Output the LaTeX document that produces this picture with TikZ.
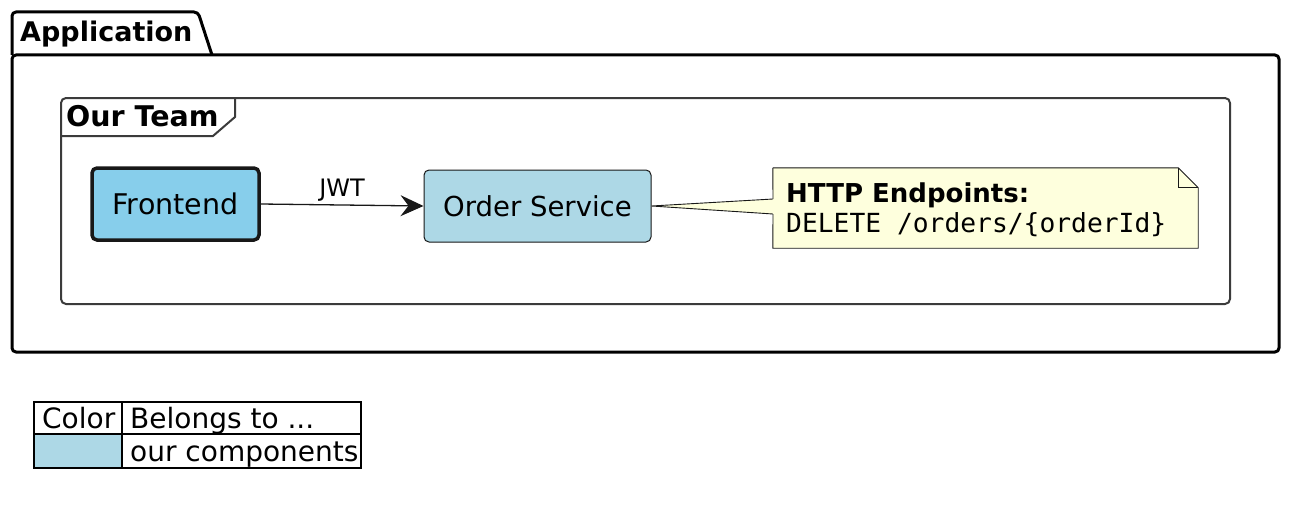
\documentclass[tikz,border=0pt]{standalone}
\usepackage{fontspec}
\setmainfont{DejaVu Sans}
\setmonofont{DejaVu Sans Mono}
\usetikzlibrary{arrows.meta}
\definecolor{lineclr}{HTML}{181818}
\definecolor{fefill}{HTML}{87CEEB}
\definecolor{osfill}{HTML}{ADD8E6}
\definecolor{notefill}{HTML}{FEFFDD}
\newcommand{\fsz}[1]{\fontsize{#1}{#1}\selectfont}
\tikzset{
  pkgline/.style={draw=black, line width=3pt, line join=round},
  frameline/.style={draw=lineclr!85!white, line width=2pt},
  compbox/.style={rounded corners=5pt, draw=lineclr, minimum height=72pt, inner sep=0pt, font=\fsz{28.5}},
  notebox/.style={draw=none, minimum width=425pt, minimum height=80pt, inner sep=0pt},
  titletext/.style={anchor=base west, inner sep=0pt, font=\bfseries\fsz{27}},
  legtext/.style={anchor=base west, inner sep=0pt, font=\fsz{28}},
  arrowline/.style={draw=lineclr, line width=1.3pt, -{Stealth[length=23pt,width=21pt,inset=8pt]}},
  noteline/.style={draw=lineclr, line width=0.9pt}
}
\begin{document}
\begin{tikzpicture}[x=1pt,y=-1pt]
\useasboundingbox (0,0) rectangle (1290,519);
\fill[white] (0,0) rectangle (1290,519);
% Application package
\draw[pkgline, rounded corners=4pt] (12,55) rectangle (1279,352);
\draw[pkgline] (12,55) [rounded corners=4pt] -- (12,12) -- (198,12) [sharp corners] -- (212,55);
\node[titletext] (apptitle) at (20,42) {Application};
% Our Team frame
\draw[frameline, rounded corners=5pt] (61,98) rectangle (1230,304);
\draw[frameline] (61,136) -- (213,136) -- (235,117) -- (235,98);
\node[titletext, font=\bfseries\fsz{28.5}] (teamtitle) at (66,126) {Our Team};
% Components
\node[compbox, fill=fefill, line width=3.5pt, minimum width=167pt] (fe) at (175.5,204) {Frontend};
\node[compbox, fill=osfill, line width=1pt, minimum width=227pt, font=\fsz{27.5}] (os) at (537.5,206) {Order Service};
\draw[arrowline] (fe.east) -- node[above=3pt, inner sep=0pt, font=\fsz{24}] (jwt) {JWT} (os.west);
% Note
\node[notebox] (note) at (985.5,208) {};
\coordinate (wa) at (773,199);
\coordinate (wb) at (773,214);
\coordinate (fa) at ([xshift=-20pt]note.north east);
\coordinate (fb) at ([yshift=-20pt]note.north east);
\coordinate (fc) at ([xshift=-20pt,yshift=-20pt]note.north east);
\fill[notefill] (os.east) -- (wa) -- (wb) -- cycle;
\draw[noteline] (wa) -- (os.east) -- (wb);
\draw[noteline, fill=notefill] (note.north west) -- (fa) -- (fb) -- (note.south east) -- (note.south west) -- (wb);
\draw[noteline] (note.north west) -- (wa);
\draw[noteline] (fa) -- (fc) -- (fb);
\node[anchor=base west, inner sep=0pt, font=\bfseries\fsz{26}] (nt1) at (786,202) {HTTP Endpoints:};
\node[anchor=base west, inner sep=0pt, font=\ttfamily\fsz{26.3}] (nt2) at (786,232) {DELETE /orders/\{orderId\}};
% Legend
\fill[osfill] (34,434) rectangle (122,468);
\draw[black, line width=1.5pt] (34,402) rectangle (361,468);
\draw[black, line width=1.5pt] (122,402) -- (122,468);
\draw[black, line width=1.5pt] (34,434) -- (361,434);
\node[legtext] (lg1) at (42,428) {Color};
\node[legtext] (lg2) at (130,428) {Belongs to ...};
\node[legtext] (lg3) at (130,461) {our components};
\end{tikzpicture}
\end{document}
